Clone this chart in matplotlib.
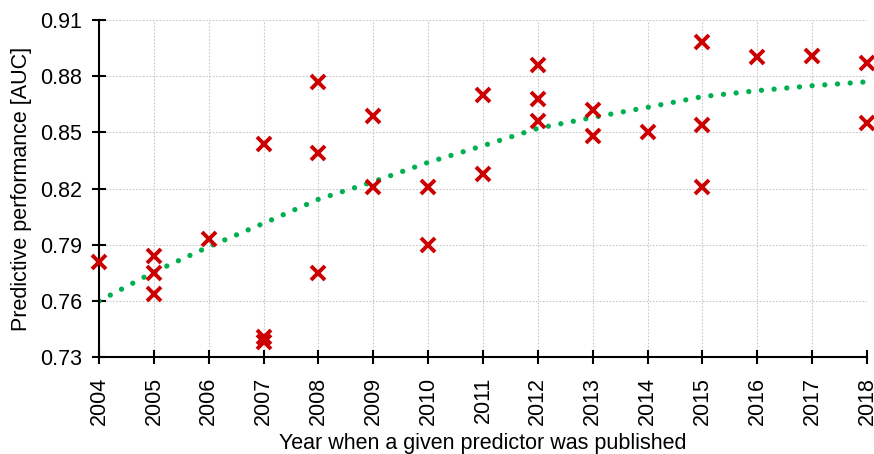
import numpy as np
import matplotlib
matplotlib.use('Agg')
import matplotlib.pyplot as plt

plt.rcParams['font.family'] = ['Liberation Sans', 'DejaVu Sans']

# published predictors (year, AUC)
years = [2004, 2005, 2005, 2005, 2006, 2007, 2007, 2007, 2008, 2008, 2008,
         2009, 2009, 2010, 2010, 2011, 2011, 2012, 2012, 2012, 2013, 2013,
         2014, 2015, 2015, 2015, 2016, 2017, 2018, 2018]
auc = [0.781, 0.784, 0.775, 0.764, 0.793, 0.844, 0.741, 0.738, 0.877, 0.839, 0.775,
       0.859, 0.821, 0.821, 0.790, 0.870, 0.828, 0.886, 0.868, 0.856, 0.862, 0.848,
       0.850, 0.898, 0.854, 0.821, 0.890, 0.891, 0.887, 0.855]

# trend curve read at each year
trend_years = list(range(2004, 2019))
trend_auc = [0.760, 0.7755, 0.789, 0.8015, 0.8143, 0.8237, 0.834, 0.8429,
             0.8522, 0.858, 0.8634, 0.8691, 0.8723, 0.8749, 0.877]

fig = plt.figure(figsize=(8.74, 4.54), dpi=100)
ax = fig.add_axes([0.1133, 0.213, 0.8787, 0.743])

ax.plot(trend_years, trend_auc, color='#00B050', linewidth=3.8,
        linestyle=(0, (0.01, 2.4)), dash_capstyle='round', zorder=2)
ax.plot(years, auc, 'x', color='#CC0000', markersize=10, mew=2.8,
        linestyle='none', zorder=3, clip_on=False)

ax.set_xlim(2004, 2018)
ax.set_ylim(0.73, 0.91)
ax.set_xticks(trend_years)
ax.set_xticklabels([str(y) for y in trend_years], rotation=90)
yt = [0.73, 0.76, 0.79, 0.82, 0.85, 0.88, 0.91]
ax.set_yticks(yt)
ax.set_yticklabels([f'{v:.2f}' for v in yt])

ax.grid(True, color='#c8c8c8', linestyle=(0, (1.5, 1.5)), linewidth=0.8)
ax.set_axisbelow(True)
for s in ['top', 'right']:
    ax.spines[s].set_visible(False)
for s in ['left', 'bottom']:
    ax.spines[s].set_linewidth(1.5)
ax.tick_params(direction='inout', length=10, width=1.5, labelsize=15.5)
ax.tick_params(axis='x', pad=9)
ax.tick_params(axis='y', pad=7)

ax.set_xlabel('Year when a given predictor was published', fontsize=15.5, labelpad=6)
ax.set_ylabel('Predictive performance [AUC]', fontsize=15.5, labelpad=6)

plt.savefig('out.png', dpi=100)
